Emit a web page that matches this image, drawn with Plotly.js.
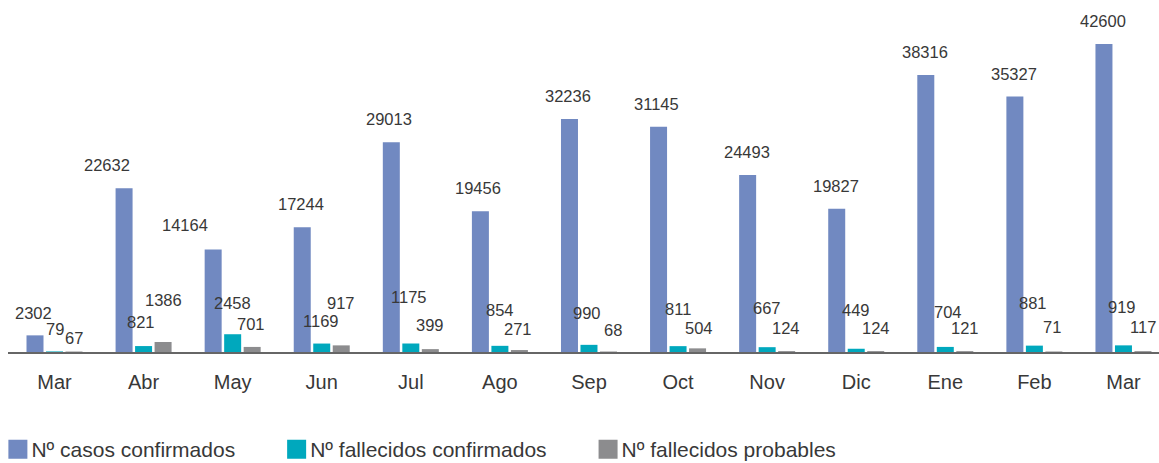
<!DOCTYPE html>
<html>
<head>
<meta charset="utf-8">
<script src="https://cdn.plot.ly/plotly-3.0.1.min.js"></script>
<style>html,body{margin:0;padding:0;background:#fff;}#chart{width:1159px;height:463px;}</style>
</head>
<body>
<div id="chart"></div>
<script>
// ---- data ----
const months = ["Mar","Abr","May","Jun","Jul","Ago","Sep","Oct","Nov","Dic","Ene","Feb","Mar"];
const casosConfirmados = [2302,22632,14164,17244,29013,19456,32236,31145,24493,19827,38316,35327,42600];
const fallecidosConfirmados = [79,821,2458,1169,1175,854,990,811,667,449,704,881,919];
const fallecidosProbables = [67,1386,701,917,399,271,68,504,124,124,121,71,117];
const seriesNames = ["Nº casos confirmados","Nº fallecidos confirmados","Nº fallecidos probables"];

// ---- label placement (pixels, layout only) ----
const casosLift = [22,23,25,23,23,23,23,23,23,23,23,23,23];
const casosDx   = [-2,-17,-28,-1.5,-2,-2,-1.5,-2,-1,-1,-1,-1,-1];
const confLift  = [22,23.6,31.7,23,46.5,36.3,32.3,37.1,38.7,38.3,34.9,43.1,38.4];
const confDx    = [0,-2.5,0,-1,-2,0,-1.5,0,0,0,2.5,-1.5,-1.5];
const probLift  = [14,41.5,23.4,41.9,24.6,21.5,22,20.4,23.1,23.1,23.6,24,23.7];
const probDx    = [0,0,-1,0,0,-1.5,5,1,-1,0,0,-1.5,0];

const colors = ["#7189c1","#00a8bd","#8c8c8e"];
const FONT = "'Liberation Sans Narrow','Arial Narrow','Liberation Sans',Arial,sans-serif";
const TXT = "#383838";
const xIdx = months.map((_, i) => i);

const traces = [casosConfirmados, fallecidosConfirmados, fallecidosProbables].map((vals, k) => ({
  type: "bar", x: xIdx, y: vals, name: seriesNames[k],
  marker: {color: colors[k]}, hoverinfo: "none"
}));

const slotPx = 19.5;
const annos = [];
[[casosConfirmados, casosLift, casosDx, -slotPx],
 [fallecidosConfirmados, confLift, confDx, 0],
 [fallecidosProbables, probLift, probDx, slotPx]].forEach(([vals, lift, dx, off]) => {
  vals.forEach((v, i) => {
    annos.push({
      x: xIdx[i], y: v, xref: "x", yref: "y", text: String(v), showarrow: false,
      xanchor: "center", yanchor: "middle", xshift: off + dx[i], yshift: lift[i],
      font: {family: FONT, size: 16.5, color: TXT}
    });
  });
});

const layout = {
  width: 1159, height: 463,
  margin: {l: 8, r: 0, t: 0, b: 111, pad: 0, autoexpand: false},
  paper_bgcolor: "#ffffff", plot_bgcolor: "#ffffff",
  barmode: "group", bargap: 0.3433, bargroupgap: 0.128,
  showlegend: true,
  legend: {orientation: "h", x: -0.0405, xanchor: "left", y: -0.219, yanchor: "top", itemwidth: 60,
           font: {family: FONT, size: 21, color: TXT}, bgcolor: "rgba(0,0,0,0)", itemclick: false},
  xaxis: {range: [-0.522, 12.399], tickvals: xIdx, ticktext: months, showgrid: false, zeroline: false,
          showline: true, linecolor: "#666666", linewidth: 1.5, ticks: "", ticklabelstandoff: 11,
          tickfont: {family: FONT, size: 20, color: TXT}, fixedrange: true},
  yaxis: {range: [0, 48686], visible: false, showgrid: false, zeroline: false, fixedrange: true},
  annotations: annos,
  hovermode: false,
  font: {family: FONT, color: TXT}
};

Plotly.newPlot("chart", traces, layout, {displayModeBar: false, staticPlot: true}).then(() => {
  document.querySelectorAll(".legend .traces").forEach(g => {
    const text = g.querySelector(".legendtext");
    const path = g.querySelector(".legendpoints path");
    if (!text || !path) return;
    const textAbs = text.getCTM().e + parseFloat(text.getAttribute("x") || 0);
    const origin = path.getCTM().e;
    const right = textAbs - 4 - origin;
    const left = right - 19;
    path.setAttribute("d", `M${right},9.5H${left}V-9.5H${right}Z`);
  });
});
</script>
</body>
</html>
